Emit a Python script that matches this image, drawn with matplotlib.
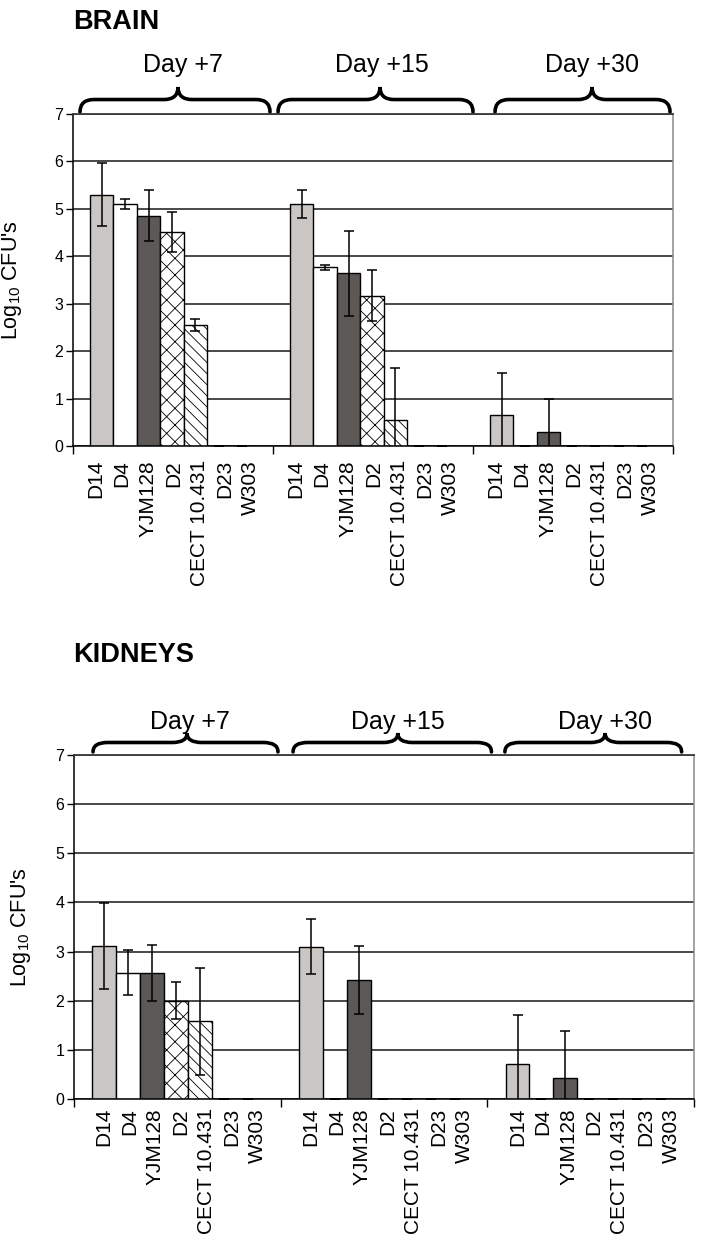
import matplotlib
matplotlib.use("Agg")
import matplotlib.pyplot as plt
from matplotlib import font_manager, transforms
from matplotlib.path import Path
from matplotlib.patches import PathPatch

# Strains (series) and sampling days (groups)
strains = ['D14', 'D4', 'YJM128', 'D2', 'CECT 10.431', 'D23', 'W303']
days = ['Day +7', 'Day +15', 'Day +30']

# Log10 CFU's, one row per strain: [day +7, day +15, day +30]
brain_mean = [[5.30, 5.10, 0.65],
              [5.10, 3.77, 0.00],
              [4.86, 3.64, 0.30],
              [4.51, 3.17, 0.00],
              [2.55, 0.55, 0.00],
              [0.00, 0.00, 0.00],
              [0.00, 0.00, 0.00]]
brain_err = [[0.66, 0.30, 0.90],
             [0.10, 0.05, 0.00],
             [0.53, 0.90, 0.70],
             [0.42, 0.54, 0.00],
             [0.12, 1.09, 0.00],
             [0.00, 0.00, 0.00],
             [0.00, 0.00, 0.00]]

kidney_mean = [[3.11, 3.10, 0.72],
               [2.57, 0.00, 0.00],
               [2.56, 2.42, 0.42],
               [2.00, 0.00, 0.00],
               [1.58, 0.00, 0.00],
               [0.00, 0.00, 0.00],
               [0.00, 0.00, 0.00]]
kidney_err = [[0.88, 0.56, 0.98],
              [0.46, 0.00, 0.00],
              [0.57, 0.70, 0.96],
              [0.38, 0.00, 0.00],
              [1.09, 0.00, 0.00],
              [0.00, 0.00, 0.00],
              [0.00, 0.00, 0.00]]

# bar styles per strain
face = ['#c9c6c3', 'white', '#5b5856', 'white', 'white', 'white', 'white']
hatches = [None, None, None, 'xx', '\\\\\\', None, None]


def has_font(name):
    try:
        font_manager.findfont(font_manager.FontProperties(family=name), fallback_to_default=False)
        return True
    except ValueError:
        return False


base_font = 'Liberation Sans' if has_font('Liberation Sans') else 'DejaVu Sans'

plt.rcParams['font.family'] = [base_font, 'DejaVu Sans']
plt.rcParams['mathtext.default'] = 'regular'
plt.rcParams['hatch.linewidth'] = 0.6

fig = plt.figure(figsize=(7.04, 12.38), dpi=100)


def brace(ax, x0, x1, xm, yb, yt, q):
    ym = yb + (yt - yb) * 0.5
    verts = [(x0, yb), (x0, ym), (x0 + q, ym),
             (xm - q, ym), (xm, ym), (xm, yt),
             (xm, ym), (xm + q, ym),
             (x1 - q, ym), (x1, ym), (x1, yb)]
    codes = [Path.MOVETO, Path.CURVE3, Path.CURVE3,
             Path.LINETO, Path.CURVE3, Path.CURVE3,
             Path.CURVE3, Path.CURVE3,
             Path.LINETO, Path.CURVE3, Path.CURVE3]
    trans = transforms.blended_transform_factory(ax.transData, fig.transFigure)
    ax.add_patch(PathPatch(Path(verts, codes), fill=False, lw=2.6, color='black',
                           transform=trans, clip_on=False, capstyle='round'))


def panel(rect, mean, err, bar_off, bar_w, lab_off, lab_step, lab_pad,
          title, title_y, head_y, braces, heads):
    ax = fig.add_axes(rect)
    for j in range(len(strains)):
        xs = [g + bar_off + bar_w * (j + 0.5) for g in range(len(days))]
        ax.bar(xs, mean[j], width=bar_w, color=face[j], edgecolor='black',
               linewidth=1.0, hatch=hatches[j], zorder=2)
        ax.errorbar(xs, mean[j], yerr=err[j], fmt='none', ecolor='black',
                    elinewidth=1.1, capsize=3.8, capthick=1.1, zorder=3)
    ax.set_xlim(0, len(days))
    ax.set_ylim(0, 7)
    ax.set_yticks(range(0, 8))
    ax.yaxis.grid(True, color='#3a3a3a', linewidth=1.3)
    ax.set_axisbelow(True)
    ax.tick_params(axis='y', direction='out', length=5, width=1, labelsize=11.5, pad=2)
    # group separators as major ticks, strain names as minor tick labels
    ax.set_xticks(range(0, len(days) + 1))
    ax.set_xticklabels([])
    ax.tick_params(axis='x', which='major', direction='out', length=6, width=1)
    pos = [g + lab_off + lab_step * j for g in range(len(days)) for j in range(len(strains))]
    ax.set_xticks(pos, minor=True)
    ax.set_xticklabels(strains * len(days), minor=True, rotation=90, fontsize=15)
    ax.tick_params(axis='x', which='minor', length=0, pad=lab_pad)
    for s in ['left', 'bottom']:
        ax.spines[s].set_color('black')
        ax.spines[s].set_linewidth(1.1)
    ax.spines['top'].set_color('#3a3a3a')
    ax.spines['top'].set_linewidth(1.3)
    ax.spines['right'].set_color('#8a8a8a')
    ax.spines['right'].set_linewidth(1.1)
    ax.set_ylabel("Log$_{10}$ CFU's", fontsize=15.5)
    fig.text(0.104, title_y, title, fontsize=19.5, fontweight='bold',
             va='center', ha='left')
    trans = transforms.blended_transform_factory(ax.transData, fig.transFigure)
    for (x0, x1, xm), name, hx in zip(braces, days, heads):
        brace(ax, x0, x1, xm, head_y[1], head_y[2], 0.07)
        ax.text(hx, head_y[0], name, transform=trans, fontsize=18,
                ha='center', va='center')
    return ax


ax1 = panel([0.1037, 0.6397, 0.8523, 0.2682], brain_mean, brain_err,
            0.085, 0.117, 0.115, 0.129, 10,
            'BRAIN', 0.982, (0.9475, 0.9095, 0.9297),
            [(0.035, 0.985, 0.525), (1.025, 2.0, 1.535), (2.11, 2.985, 2.595)],
            [0.55, 1.545, 2.595])
ax1.yaxis.set_label_coords(-0.082, 0.5)

ax2 = panel([0.1051, 0.1123, 0.8807, 0.2779], kidney_mean, kidney_err,
            0.088, 0.116, 0.145, 0.124, 6.5,
            'KIDNEYS', 0.4709, (0.4168, 0.3926, 0.4079),
            [(0.092, 0.987, 0.547), (1.06, 2.02, 1.567), (2.085, 2.94, 2.57)],
            [0.56, 1.567, 2.57])
ax2.yaxis.set_label_coords(-0.066, 0.5)

fig.savefig('out.png', dpi=100)
